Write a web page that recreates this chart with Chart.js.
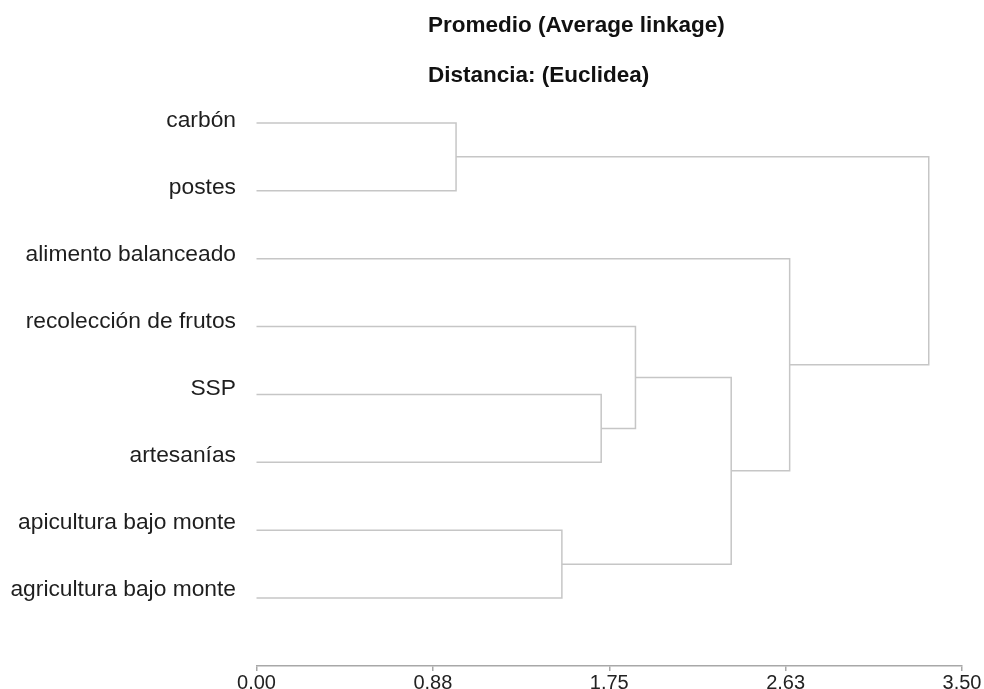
<!DOCTYPE html>
<html>
<head>
<meta charset="utf-8">
<script src="https://cdn.jsdelivr.net/npm/chart.js@4.4.1/dist/chart.umd.min.js"></script>
<style>
  body { margin: 0; background: #fff; }
  #wrap { position: relative; width: 984px; height: 689px; }
  .ttl { position: absolute; left: 428px; font: bold 22.5px "Liberation Sans", Arial, sans-serif; line-height: 22px; color: #111; white-space: nowrap; }
</style>
</head>
<body>
<div id="wrap">
  <canvas id="dendro" width="984" height="689"></canvas>
  <div class="ttl" style="top:14px;">Promedio (Average linkage)</div>
  <div class="ttl" style="top:64px;">Distancia: (Euclidea)</div>
</div>
<script>
// leaves, top to bottom
const leaves = ['carbón', 'postes', 'alimento balanceado', 'recolección de frutos', 'SSP', 'artesanías', 'apicultura bajo monte', 'agricultura bajo monte'];

// merges, hclust style: negative = leaf number (1-based), positive = earlier merge
const mergeA = [-1, -5, -4, -7, 3, -3, 1];
const mergeB = [-2, -6, 2, -8, 4, 5, 6];
const mergeHeight = [0.99, 1.71, 1.88, 1.515, 2.355, 2.645, 3.335];

// x axis
const tickValues = [0, 0.875, 1.75, 2.625, 3.5];
const tickLabels = ['0.00', '0.88', '1.75', '2.63', '3.50'];

// ===== Build link polylines =====
const nodes = [];
const getNode = ref => ref < 0 ? { x: 0, y: -ref - 1 } : nodes[ref - 1];
const datasets = [];

mergeHeight.forEach((h, i) => {
  const a = getNode(mergeA[i]);
  const b = getNode(mergeB[i]);
  nodes.push({ x: h, y: (a.y + b.y) / 2 });
  datasets.push({
    data: [{ x: a.x, y: a.y }, { x: h, y: a.y }, { x: h, y: b.y }, { x: b.x, y: b.y }],
    showLine: true,
    borderColor: '#c6c6c6',
    borderWidth: 1.5,
    pointRadius: 0,
    fill: false,
    tension: 0,
    clip: false
  });
});

new Chart(document.getElementById('dendro'), {
  type: 'scatter',
  data: { datasets },
  options: {
    responsive: false,
    animation: false,
    events: [],
    layout: { padding: { top: 55, right: 22, bottom: 0, left: 0 } },
    plugins: { legend: { display: false }, tooltip: { enabled: false } },
    scales: {
      x: {
        type: 'linear',
        min: 0, max: 3.5,
        afterBuildTicks: scale => { scale.ticks = tickValues.map(v => ({ value: v })); },
        afterFit: scale => { scale.height = 23; },
        grid: { drawOnChartArea: false, drawTicks: true, tickLength: 5, color: '#a8a8a8', lineWidth: 1.5 },
        border: { display: true, color: '#a8a8a8', width: 1.5 },
        ticks: {
          autoSkip: false, maxRotation: 0, padding: 2, color: '#222',
          font: { family: 'Liberation Sans', size: 20, lineHeight: 1 },
          callback: (v, i) => tickLabels[i]
        }
      },
      // scale the links are drawn on
      y: {
        type: 'linear',
        display: false,
        reverse: true,
        min: -1, max: 8
      },
      // leaf names sit a little tighter than the links in the original
      yLabels: {
        type: 'linear',
        position: 'left',
        reverse: true,
        min: -0.978, max: 8.141,
        afterBuildTicks: scale => { scale.ticks = leaves.map((_, i) => ({ value: i })); },
        afterFit: scale => { scale.width = 256.5; },
        grid: { display: false, drawTicks: true, tickLength: 20.5 },
        border: { display: false },
        ticks: {
          autoSkip: false, padding: 0, color: '#1e1e1e',
          font: { family: 'Liberation Sans', size: 22.8 },
          callback: v => leaves[v]
        }
      }
    }
  }
});
</script>
</body>
</html>
